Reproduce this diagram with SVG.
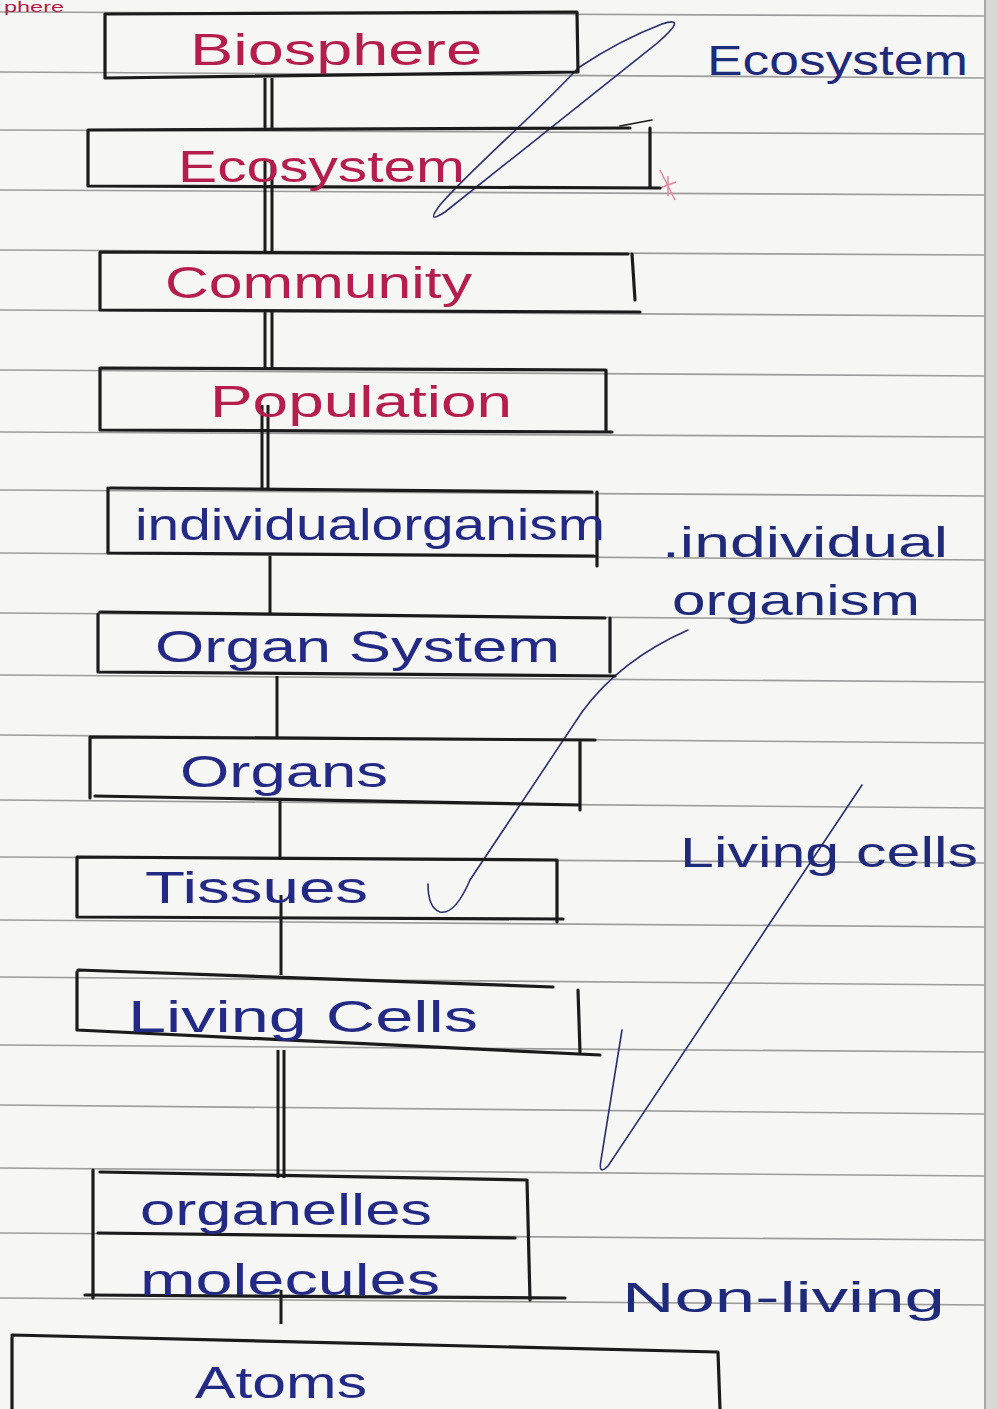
<svg xmlns="http://www.w3.org/2000/svg" width="997" height="1409" viewBox="0 0 997 1409">
<style>
.rule{stroke:#9c9c9c;stroke-width:1.6;fill:none}
.box{stroke:#1b1b1b;stroke-width:3.2;fill:none;stroke-linecap:round;stroke-linejoin:round}
.con{stroke:#1b1b1b;stroke-width:3;fill:none}
.brk{stroke:#2a2f6e;stroke-width:1.6;fill:none;stroke-linecap:round}
.t{font-family:"Liberation Sans","DejaVu Sans",sans-serif;font-size:44px}
.red{fill:#b51e4c}
.blue{fill:#232a86}
.side{font-family:"Liberation Sans","DejaVu Sans",sans-serif;font-size:42px;fill:#1f2a7a}
</style>
<rect width="997" height="1409" fill="#f6f6f4"/>
<g id="paper">
<path class="rule" d="M0,12 L985,16 M0,72 L985,78 M0,130 L985,134 M0,190 L985,195 M0,250 L985,255 M0,310 L985,316 M0,370 L985,376 M0,432 L985,437 M0,490 L985,496 M0,553 L985,560 M0,613 L985,620 M0,675 L985,682 M0,735 L985,743 M0,800 L985,808 M0,857 L985,863 M0,920 L985,927 M0,977 L985,985 M0,1045 L985,1052 M0,1105 L985,1114 M0,1168 L985,1176 M0,1233 L985,1240 M0,1298 L985,1305"/>
<path d="M985,0 V1409" stroke="#a8a8a8" stroke-width="2"/>
<rect x="986" y="0" width="11" height="1409" fill="#d8d8d6"/>
</g>
<text class="red" x="4" y="12" font-family="Liberation Sans, DejaVu Sans, sans-serif" font-size="14" textLength="60" lengthAdjust="spacingAndGlyphs">phere</text>
<g id="connectors">
<path class="con" d="M265,78 V130 M272,78 V130"/>
<path class="con" d="M265,160 V252 M272,160 V252"/>
<path class="con" d="M265,310 V370 M272,310 V370"/>
<path class="con" d="M262,405 V490 M268,405 V490"/>
<path class="con" d="M270,556 V615"/>
<path class="con" d="M277,676 V738"/>
<path class="con" d="M280,800 V860"/>
<path class="con" d="M281,895 V975"/>
<path class="con" d="M278,1050 V1178 M284,1050 V1178"/>
<path class="con" d="M281,1290 V1324"/>
</g>
<g id="brackets">
<path class="brk" d="M578,68 C540,110 470,170 440,205 Q425,225 445,212 Q560,120 655,45 Q690,15 662,24 Q620,40 578,68"/>
<path class="brk" d="M688,630 Q620,660 582,712 L470,880 Q455,915 440,912 Q428,908 428,884"/>
<path class="brk" d="M862,785 L608,1166 Q598,1176 601,1160 L622,1030"/>
<path d="M660,170 L675,200 M668,176 L668,196 M660,188 L676,182" stroke="#e2849c" stroke-width="1.4"/>
</g>
<g id="biosphere">
<path class="box" d="M105,14 L577,12 L578,72 M105,14 L105,78 L578,72"/>
<text class="t red" x="190" y="65" textLength="292" lengthAdjust="spacingAndGlyphs">Biosphere</text>
</g>
<g id="ecosystem">
<path class="box" d="M88,130 L630,128 M650,128 L650,188 M88,130 L88,186 L660,188"/>
<path class="box" d="M620,126 L652,120" style="stroke-width:1.6"/>
<text class="t red" x="178" y="182" textLength="287" lengthAdjust="spacingAndGlyphs">Ecosystem</text>
</g>
<g id="community">
<path class="box" d="M100,252 L628,254 M632,254 L635,300 M100,252 L100,310 L640,312"/>
<text class="t red" x="165" y="298" textLength="307" lengthAdjust="spacingAndGlyphs">Community</text>
</g>
<g id="population">
<path class="box" d="M100,368 L606,370 L606,432 M100,368 L100,430 L612,432"/>
<text class="t red" x="210" y="417" textLength="302" lengthAdjust="spacingAndGlyphs">Population</text>
</g>
<g id="individual-organism">
<path class="box" d="M110,488 L592,492 M597,492 L597,566 M108,488 L108,553 L594,556"/>
<text class="t blue" x="135" y="540" textLength="470" lengthAdjust="spacingAndGlyphs">individualorganism</text>
</g>
<g id="organ-system">
<path class="box" d="M100,612 L605,618 M610,618 L610,672 M98,614 L98,672 L615,676"/>
<text class="t blue" x="155" y="662" textLength="405" lengthAdjust="spacingAndGlyphs">Organ System</text>
</g>
<g id="organs">
<path class="box" d="M90,737 L595,740 M580,740 L580,810 M90,737 L90,798 M95,796 L580,805"/>
<text class="t blue" x="180" y="787" textLength="208" lengthAdjust="spacingAndGlyphs">Organs</text>
</g>
<g id="tissues">
<path class="box" d="M78,857 L557,860 L557,922 M77,857 L77,917 L563,919"/>
<text class="t blue" x="145" y="903" textLength="223" lengthAdjust="spacingAndGlyphs">Tissues</text>
</g>
<g id="living-cells">
<path class="box" d="M78,970 L553,987 M578,990 L580,1052 M77,972 L77,1030 L600,1055"/>
<text class="t blue" x="128" y="1032" textLength="350" lengthAdjust="spacingAndGlyphs">Living Cells</text>
</g>
<g id="organelles">
<path class="box" d="M93,1170 L93,1298 M100,1172 L527,1180 L530,1300 M98,1233 L515,1238"/>
<text class="t blue" x="140" y="1225" textLength="292" lengthAdjust="spacingAndGlyphs">organelles</text>
</g>
<g id="molecules">
<path class="box" d="M85,1295 L565,1298"/>
<text class="t blue" x="140" y="1295" textLength="300" lengthAdjust="spacingAndGlyphs">molecules</text>
</g>
<g id="atoms">
<path class="box" d="M12,1335 L718,1352 L720,1409 M12,1337 L12,1409"/>
<text class="t blue" x="195" y="1398" textLength="172" lengthAdjust="spacingAndGlyphs">Atoms</text>
</g>
<g id="labels">
<text class="side" x="707" y="75" textLength="261" lengthAdjust="spacingAndGlyphs">Ecosystem</text>
<text class="side" x="662" y="557" textLength="286" lengthAdjust="spacingAndGlyphs">.individual</text>
<text class="side" x="672" y="615" textLength="248" lengthAdjust="spacingAndGlyphs">organism</text>
<text class="side" x="680" y="867" textLength="298" lengthAdjust="spacingAndGlyphs">Living cells</text>
<text class="side" x="622" y="1312" textLength="323" lengthAdjust="spacingAndGlyphs">Non-living</text>
</g>
</svg>
